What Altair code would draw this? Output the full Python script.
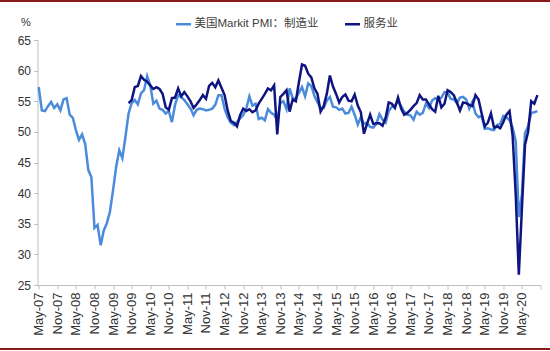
import altair as alt
import pandas as pd

tick_labels = ["May-07", "Nov-07", "May-08", "Nov-08", "May-09", "Nov-09", "May-10",
               "Nov-10", "May-11", "Nov-11", "May-12", "Nov-12", "May-13", "Nov-13",
               "May-14", "Nov-14", "May-15", "Nov-15", "May-16", "Nov-16", "May-17",
               "Nov-17", "May-18", "Nov-18", "May-19", "Nov-19", "May-20"]

mfg_name = "美国Markit PMI：制造业"
svc_name = "服务业"

# monthly, starting May-07
mfg_values = [
    57.3, 53.5, 53.4, 54.2, 54.9, 53.9, 54.5, 53.5,            # May-07..Dec-07
    55.3, 55.5, 52.8, 52.3, 50.3, 48.7, 49.6, 48.0, 43.8, 42.6, 34.3, 34.8,  # 2008
    31.5, 33.9, 35.1, 37.0, 40.5, 44.3, 47.0, 45.7, 49.2, 53.0, 54.7, 55.2,  # 2009
    54.5, 56.3, 56.8, 59.1, 57.6, 54.6, 55.1, 53.8, 53.6, 53.0, 53.4, 51.6,  # 2010
    54.4, 56.0, 55.7, 55.2, 54.5, 53.8, 52.7, 53.6, 53.8, 53.7, 53.5, 53.6,  # 2011
    53.8, 54.4, 56.0, 56.0, 53.8, 52.4, 51.5, 51.1, 51.6, 52.2, 52.7, 53.8,  # 2012
    55.8, 54.3, 54.6, 52.1, 52.3, 51.9, 53.7, 53.1, 52.8, 51.8, 54.7, 55.0,  # 2013
    53.7, 57.1, 55.5, 55.4, 56.4, 57.3, 55.8, 57.9, 57.5, 55.9, 54.8, 53.9,  # 2014
    53.9, 55.1, 55.7, 54.1, 54.0, 53.6, 53.8, 53.0, 53.1, 54.1, 52.8, 51.2,  # 2015
    52.4, 51.3, 51.5, 50.8, 50.7, 51.3, 52.9, 52.0, 51.5, 53.4, 54.1, 54.3,  # 2016
    55.0, 54.2, 53.3, 52.8, 52.7, 52.0, 53.3, 52.8, 53.1, 54.6, 53.9, 55.1,  # 2017
    55.5, 55.3, 55.6, 56.5, 56.4, 55.4, 55.3, 54.7, 55.6, 55.7, 55.3, 53.8,  # 2018
    54.9, 53.0, 52.4, 52.6, 50.5, 50.6, 50.4, 50.3, 51.1, 51.3, 52.6, 52.4,  # 2019
    51.9, 50.7, 48.5, 36.1, 39.8, 49.8, 50.9, 53.1, 53.2, 53.4,              # 2020
]

# monthly, starting Oct-09
svc_start = 29
svc_values = [
    54.7, 55.2, 57.3,                                                        # Oct-09..Dec-09
    57.5, 59.1, 58.5, 58.2, 57.6, 57.0, 57.3, 57.0, 56.2, 54.0, 53.6, 55.5,  # 2010
    55.6, 57.1, 55.8, 56.5, 55.8, 55.0, 53.9, 54.5, 55.2, 56.0, 55.4, 57.5,  # 2011
    58.0, 57.3, 58.4, 57.2, 56.0, 53.5, 51.8, 51.5, 50.9, 52.7, 53.8, 53.4,  # 2012
    53.7, 53.2, 53.5, 54.6, 55.4, 56.2, 57.1, 56.8, 57.6, 49.6, 55.7, 56.2,  # 2013
    56.8, 53.3, 55.3, 55.0, 58.1, 61.0, 60.8, 59.5, 58.9, 57.1, 56.2, 53.3,  # 2014
    54.2, 56.2, 59.2, 57.4, 56.2, 54.8, 55.7, 56.1, 55.1, 55.0, 56.1, 54.3,  # 2015
    53.2, 49.7, 51.3, 52.8, 51.3, 51.4, 51.4, 51.0, 52.3, 54.8, 54.6, 53.9,  # 2016
    55.6, 53.8, 52.8, 53.1, 53.6, 54.2, 54.7, 56.0, 55.3, 55.3, 54.5, 53.7,  # 2017
    53.3, 55.9, 54.0, 54.6, 56.8, 56.5, 56.0, 54.8, 53.5, 54.8, 54.7, 54.4,  # 2018
    54.2, 56.0, 55.3, 53.0, 50.9, 51.5, 53.0, 50.7, 50.9, 50.6, 51.6, 52.8,  # 2019
    53.4, 49.4, 39.8, 26.7, 37.5, 47.9, 50.0, 55.0, 54.6, 56.0,              # 2020
]

mfg_df = pd.DataFrame({"m": list(range(len(mfg_values))), "v": mfg_values, "s": mfg_name})
svc_df = pd.DataFrame({"m": [svc_start + i for i in range(len(svc_values))],
                       "v": svc_values, "s": svc_name})

label_arr = "[" + ",".join("'" + t + "'" for t in tick_labels) + "]"
label_expr = f"datum.value <= {6 * (len(tick_labels) - 1)} ? {label_arr}[round(datum.value / 6)] : ''"

FONT = "Liberation Sans"
CJK = "Liberation Sans, Noto Sans CJK SC"

color_scale = alt.Scale(domain=[mfg_name, svc_name], range=["#4A8BDA", "#0E1580"])

x_enc = alt.X("m:Q",
              scale=alt.Scale(domain=[-0.4, 162], nice=False, zero=False),
              axis=alt.Axis(values=list(range(0, 163, 6)), labelExpr=label_expr,
                            labelAngle=-90, labelFontSize=13, labelPadding=3,
                            tickSize=4, title=None, grid=False))
y_enc = alt.Y("v:Q",
              scale=alt.Scale(domain=[25, 65], nice=False, zero=False),
              axis=alt.Axis(values=list(range(25, 66, 5)), labelFontSize=12,
                            tickSize=4, labelPadding=3, grid=False,
                            title="%", titleAngle=0, titleX=-12, titleY=-18,
                            titleAlign="center", titleBaseline="middle",
                            titleFontSize=11, titleFontWeight="normal"))

color_enc = alt.Color("s:N", scale=color_scale,
                      legend=alt.Legend(title=None, orient="none", direction="horizontal",
                                        legendX=137, legendY=-25,
                                        symbolType="stroke", symbolSize=225,
                                        symbolStrokeWidth=2.5, labelFontSize=11.5,
                                        labelFont=CJK, labelColor="#404040",
                                        labelOffset=2, columnPadding=21))

mfg_line = alt.Chart(mfg_df).mark_line(strokeWidth=2.5).encode(x=x_enc, y=y_enc, color=color_enc)
svc_line = alt.Chart(svc_df).mark_line(strokeWidth=2.5).encode(x=x_enc, y=y_enc, color=color_enc)

border_df = pd.DataFrame({"k": [0]})
top_rule = alt.Chart(border_df).mark_rule(color="#8B1A1A", strokeWidth=2).encode(
    x=alt.value(-37.5), x2=alt.value(512.5), y=alt.value(-39))
bottom_rule = alt.Chart(border_df).mark_rule(color="#8B1A1A", strokeWidth=2).encode(
    x=alt.value(-37.5), x2=alt.value(512.5), y=alt.value(309))

chart = alt.layer(mfg_line, svc_line, top_rule, bottom_rule).properties(
    width=503, height=245,
    autosize=alt.AutoSizeParams(type="none"),
    padding={"left": 37.5, "top": 40, "right": 9.5, "bottom": 66},
    background="white",
).configure_view(stroke=None).configure_axis(
    domainColor="#BFBFBF", tickColor="#BFBFBF", labelColor="#333333",
    titleColor="#333333", labelFont=FONT, titleFont=FONT,
)

chart.save("out.html", embed_options={"renderer": "svg", "actions": False})
